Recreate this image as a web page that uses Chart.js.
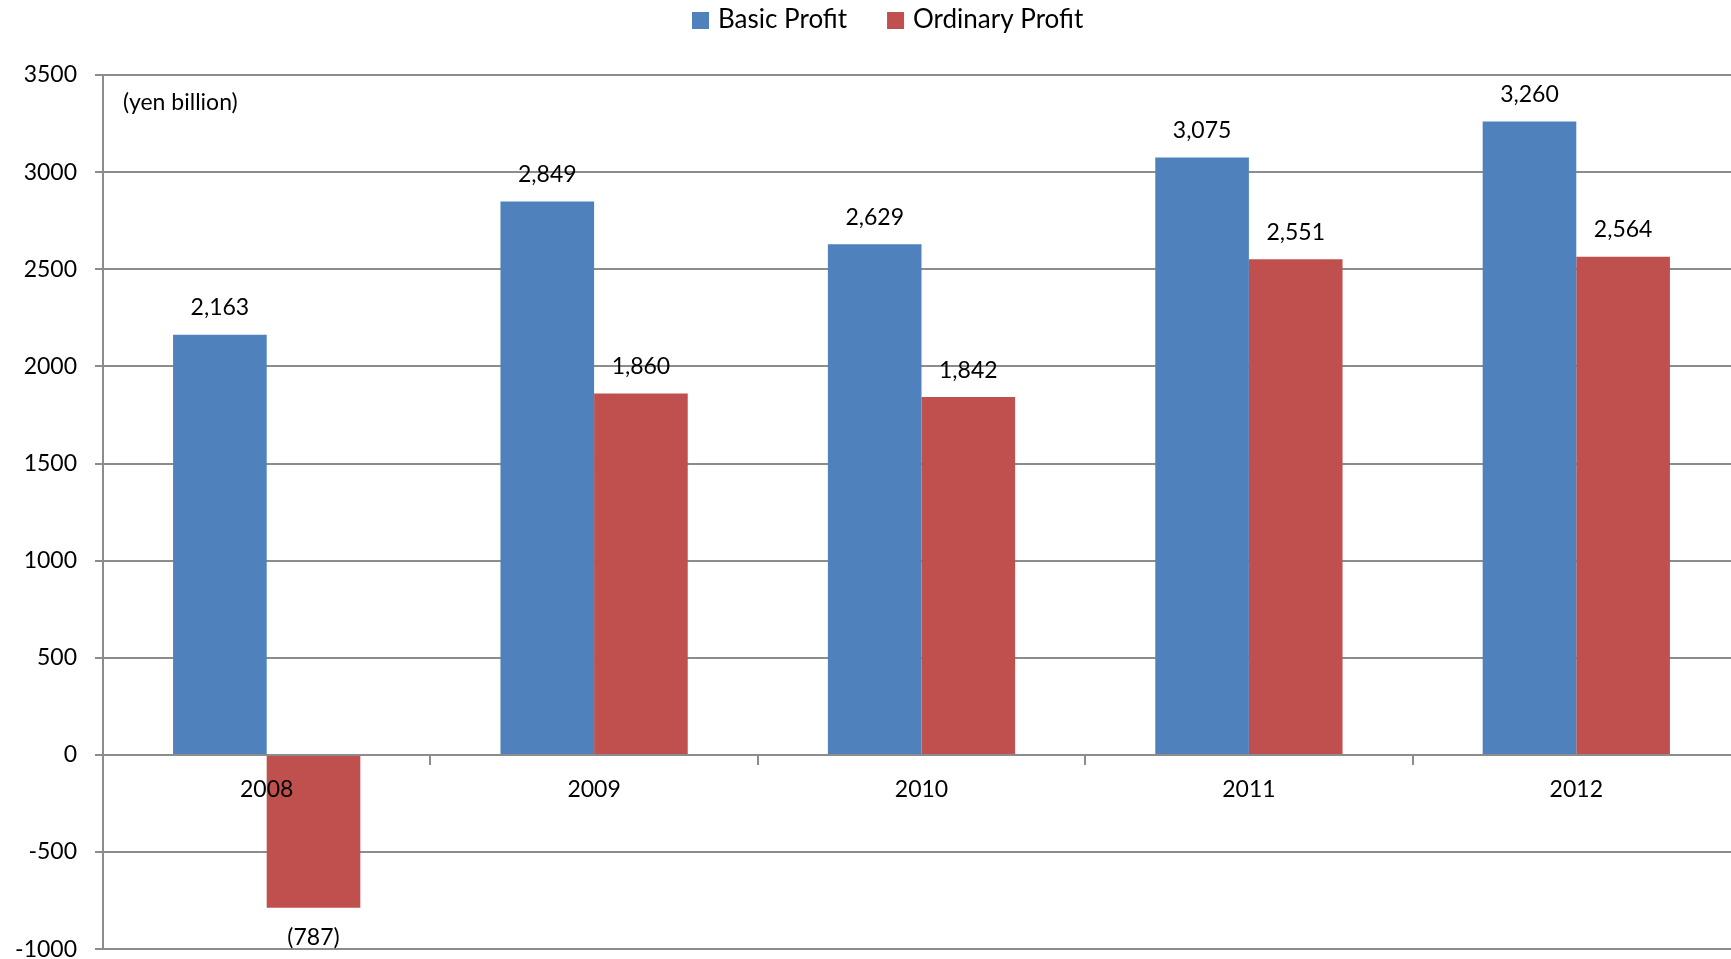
<!DOCTYPE html>
<html>
<head>
<meta charset="utf-8">
<script src="https://cdn.jsdelivr.net/npm/chart.js@4.4.1/dist/chart.umd.min.js"></script>
<style>
  html, body { margin: 0; padding: 0; overflow: hidden; background: #fff; }
  #wrap { position: absolute; left: 0; top: 0; width: 1740px; height: 981px; }
</style>
</head>
<body>
<div id="wrap"><canvas id="profitChart"></canvas></div>
<script>
// fiscal years and profit figures (yen billion)
const years = ["2008", "2009", "2010", "2011", "2012"];
const basicProfit = [2163, 2849, 2629, 3075, 3260];
const ordinaryProfit = [-787, 1860, 1842, 2551, 2564];
const yTicks = [-1000, -500, 0, 500, 1000, 1500, 2000, 2500, 3000, 3500];

const FONT = "Lato, 'Open Sans', sans-serif";
const GRID = "#8c8c8c";
const seriesNames = ["Basic Profit", "Ordinary Profit"];
const seriesColors = ["#4f81bd", "#c0504d"];

// value labels above (or below for negatives) each bar
const barLabels = {
  id: "barLabels",
  afterDatasetsDraw(chart) {
    const ctx = chart.ctx;
    ctx.save();
    ctx.font = "23px " + FONT;
    ctx.fillStyle = "#000";
    ctx.textAlign = "center";
    ctx.textBaseline = "middle";
    chart.data.datasets.forEach((ds, i) => {
      chart.getDatasetMeta(i).data.forEach((bar, j) => {
        const v = ds.data[j];
        const txt = v < 0 ? "(" + Math.abs(v).toLocaleString("en-US") + ")" : v.toLocaleString("en-US");
        const y = v < 0 ? bar.y + 30 : bar.y - 27;
        ctx.fillText(txt, bar.x, y);
      });
    });
    ctx.restore();
  },
};

// legend row at the top and the unit note inside the plot
const extras = {
  id: "extras",
  afterDraw(chart) {
    const ctx = chart.ctx;
    const area = chart.chartArea;
    ctx.save();
    ctx.font = "26px " + FONT;
    ctx.textBaseline = "middle";
    let x = 692;
    seriesNames.forEach((name, i) => {
      ctx.fillStyle = seriesColors[i];
      ctx.fillRect(x, 12, 17, 17);
      ctx.fillStyle = "#000";
      ctx.textAlign = "left";
      ctx.fillText(name, x + 26, 20);
      x += 26 + ctx.measureText(name).width + 40;
    });
    ctx.font = "23px " + FONT;
    ctx.fillText("(yen billion)", area.left + 20, area.top + 28);
    ctx.restore();
  },
};

new Chart(document.getElementById("profitChart"), {
  type: "bar",
  data: {
    labels: years,
    datasets: [
      {
        label: seriesNames[0],
        data: basicProfit,
        backgroundColor: seriesColors[0],
        borderWidth: 0,
      },
      {
        label: seriesNames[1],
        data: ordinaryProfit,
        backgroundColor: seriesColors[1],
        borderWidth: 0,
      },
    ],
  },
  options: {
    responsive: true,
    maintainAspectRatio: false,
    animation: false,
    barPercentage: 1,
    categoryPercentage: 0.572,
    layout: {
      padding: { top: 75, left: 0, right: 0, bottom: 0 },
    },
    plugins: {
      legend: { display: false },
      tooltip: { enabled: false },
    },
    scales: {
      x: {
        position: { y: 0 },
        offset: true,
        grid: {
          drawOnChartArea: false,
          offset: true,
          tickLength: 9,
          color: GRID,
          lineWidth: 2,
        },
        border: { color: GRID, width: 2 },
        ticks: {
          z: 1,
          padding: 12,
          color: "#000",
          font: { family: FONT, size: 23 },
        },
      },
      y: {
        min: -1000,
        max: 3500,
        afterFit(scale) {
          scale.width = 103;
        },
        afterBuildTicks(scale) {
          scale.ticks = yTicks.map((v) => ({ value: v }));
        },
        grid: {
          color: GRID,
          lineWidth: 2,
          tickLength: 8,
        },
        border: { color: GRID, width: 2 },
        ticks: {
          padding: 18,
          color: "#000",
          font: { family: FONT, size: 23 },
          callback: (value) => String(value),
        },
      },
    },
  },
  plugins: [barLabels, extras],
});
</script>
</body>
</html>
